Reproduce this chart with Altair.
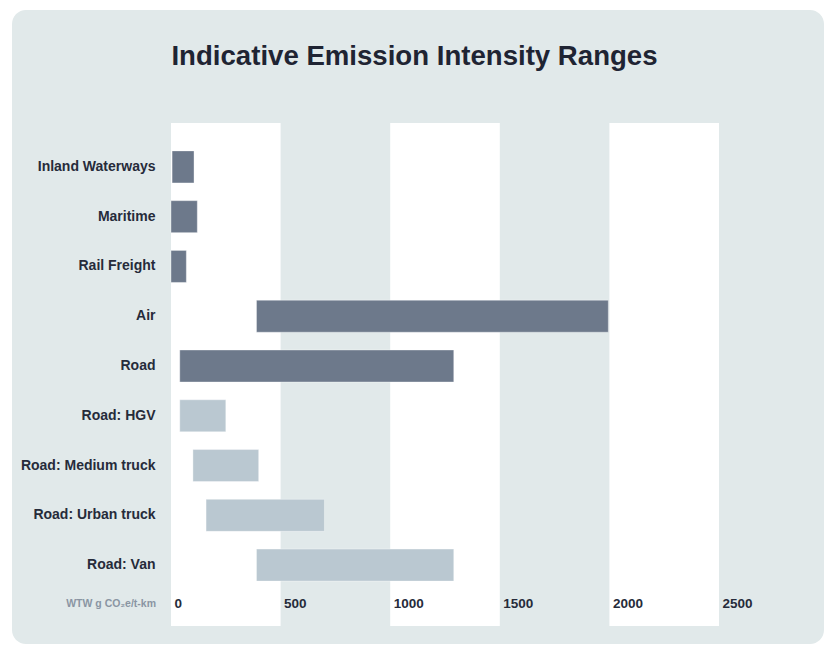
import altair as alt
import pandas as pd

# ---- data ----
categories = ["Inland Waterways", "Maritime", "Rail Freight", "Air", "Road",
              "Road: HGV", "Road: Medium truck", "Road: Urban truck", "Road: Van"]
range_low = [5, 0, 0, 390, 40, 40, 100, 160, 390]
range_high = [105, 120, 70, 1995, 1290, 250, 400, 700, 1290]
group = ["Mode", "Mode", "Mode", "Mode", "Mode",
         "Road segment", "Road segment", "Road segment", "Road segment"]

tick_values = [0, 500, 1000, 1500, 2000, 2500]
tick_labels = ["0", "500", "1000", "1500", "2000", "2500"]

band_start = [0, 1000, 2000]
band_end = [500, 1500, 2500]

title_text = "Indicative Emission Intensity Ranges"
unit_text = "WTW g CO\u2082e/t-km"

# ---- styling ----
PANEL = "#e1e9ea"
DARK = "#6d798b"
LIGHT = "#bac8d1"
TEXT = "#262b3a"
FONT = "Liberation Sans"
W, H = 548, 503

bars_df = pd.DataFrame({"mode": categories, "low": range_low,
                        "high": range_high, "group": group})
bands_df = pd.DataFrame({"start": band_start, "end": band_end})
ticks_df = pd.DataFrame({"value": tick_values, "label": tick_labels})
one = pd.DataFrame({"k": [0]})

xscale = alt.Scale(domain=[0, 2500], nice=False, zero=False)
yscale = alt.Scale(domain=categories, range=[19, 467],
                   paddingInner=0.357, paddingOuter=0.1785)

panel = alt.Chart(one).mark_rect(fill=PANEL, cornerRadius=14).encode(
    x=alt.value(-159), x2=alt.value(W + 105),
    y=alt.value(-113), y2=alt.value(H + 18),
)

bands = alt.Chart(bands_df).mark_rect(fill="white").encode(
    x=alt.X("start:Q", scale=xscale, axis=None),
    x2="end:Q",
    y=alt.value(0), y2=alt.value(H),
)

bars = alt.Chart(bars_df).mark_bar(stroke="white", strokeWidth=0.8,
                                   strokeOpacity=0.45).encode(
    x=alt.X("low:Q", scale=xscale, axis=None),
    x2="high:Q",
    y=alt.Y("mode:N", scale=yscale, sort=categories,
            axis=alt.Axis(title=None, domain=False, ticks=False,
                          labelPadding=16, labelFontSize=14,
                          labelFontWeight="bold", labelColor=TEXT,
                          labelFont=FONT, labelLimit=0, zindex=1)),
    color=alt.Color("group:N", scale=alt.Scale(domain=["Mode", "Road segment"],
                                               range=[DARK, LIGHT]),
                    legend=None),
)

tick_text = alt.Chart(ticks_df).mark_text(
    align="left", baseline="middle", dx=3.5, fontSize=13.5, fontWeight="bold",
    font=FONT, color=TEXT,
).encode(
    x=alt.X("value:Q", scale=xscale, axis=None),
    y=alt.value(481),
    text="label:N",
)

unit = alt.Chart(one).mark_text(
    align="right", baseline="middle", fontSize=10.5, fontWeight="bold",
    font=FONT, color="#8a95a3", text=unit_text,
).encode(x=alt.value(-15), y=alt.value(481))

title = alt.Chart(one).mark_text(
    align="center", baseline="alphabetic", fontSize=27.6, fontWeight="bold",
    font=FONT, color="#1f2433", text=title_text,
).encode(x=alt.value(243.5), y=alt.value(-58.5))

chart = alt.layer(panel, bands, bars, tick_text, unit, title).properties(
    width=W, height=H,
    autosize=alt.AutoSizeParams(type="none"),
    padding={"left": 163, "top": 115, "right": 106, "bottom": 18},
    background="white",
).configure_view(stroke=None)

chart.save("out.html", embed_options={"renderer": "svg", "actions": False})
